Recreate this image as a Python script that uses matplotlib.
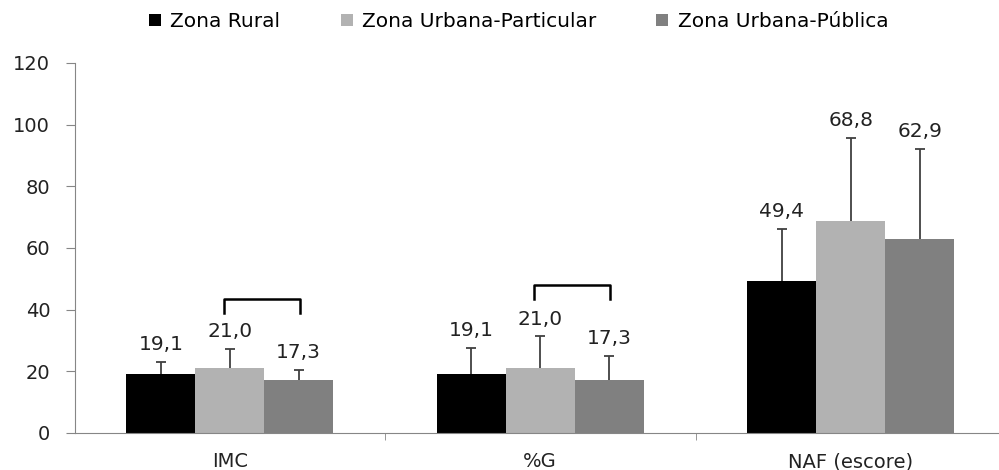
import numpy as np
import matplotlib
matplotlib.use("Agg")
import matplotlib.pyplot as plt

plt.rcParams["font.family"] = ["DejaVu Sans"]

categorias = ["IMC", "%G", "NAF (escore)"]
grupos = ["Zona Rural", "Zona Urbana-Particular", "Zona Urbana-Pública"]
cores = ["#000000", "#b2b2b2", "#808080"]

rural = [19.1, 19.1, 49.4]
urb_particular = [21.0, 21.0, 68.8]
urb_publica = [17.3, 17.3, 62.9]
medias = [rural, urb_particular, urb_publica]

# desvio padrão (só a parte superior é mostrada)
dp_rural = [4.0, 8.6, 16.8]
dp_particular = [6.3, 10.3, 26.9]
dp_publica = [3.1, 7.7, 29.2]
desvios = [dp_rural, dp_particular, dp_publica]

# colchetes de diferença significativa: (categoria, altura)
colchetes = [(0, 43.5), (1, 48.1)]


def main():
    fig = plt.figure(figsize=(9.99, 4.70), dpi=100)
    ax = fig.add_axes([74.5 / 999, 37 / 470, (1006 - 74.5) / 999, 370 / 470])

    x = np.arange(len(categorias))
    w = 0.222
    cinza = "#868686"
    for i in range(3):
        pos = x + (i - 1) * w
        ax.bar(pos, medias[i], width=w, color=cores[i], label=grupos[i], zorder=2)
        eb = ax.errorbar(pos, medias[i], yerr=[[0] * 3, desvios[i]], fmt="none",
                         ecolor="#404040", elinewidth=1.3, capsize=3.6,
                         capthick=1.3, zorder=3)
        # esconde o traço inferior (na altura da média)
        eb[1][0].set_visible(False)
        for xp, m, d in zip(pos, medias[i], desvios[i]):
            ax.text(xp, m + d + 3.8, "{:.1f}".format(m).replace(".", ","),
                    ha="center", va="baseline", fontsize=14.5, color="#222222")

    for c, h in colchetes:
        xs = [c - 0.02, c - 0.02, c + 0.225, c + 0.225]
        ys = [h - 4.5, h, h, h - 4.5]
        ax.plot(xs, ys, color="black", lw=1.8, zorder=4)

    ax.set_xlim(-0.5, 2.5)
    ax.set_ylim(0, 120)
    ax.set_yticks(range(0, 121, 20))
    ax.set_xticks(x)
    ax.set_xticklabels(categorias, fontsize=14, color="#222222")
    ax.set_xticks([0.5, 1.5], minor=True)
    ax.tick_params(axis="x", which="major", length=0, pad=14)
    ax.tick_params(axis="x", which="minor", length=5, color=cinza, direction="out")
    ax.tick_params(axis="y", length=6.5, color=cinza, labelsize=14, pad=11,
                   labelcolor="#222222")
    for s in ["top", "right"]:
        ax.spines[s].set_visible(False)
    ax.spines["left"].set_color(cinza)
    ax.spines["bottom"].set_color(cinza)

    fig.legend(loc="upper left", bbox_to_anchor=(149 / 999, 1 - 12 / 470), ncol=3,
               frameon=False, fontsize=14.5, handlelength=0.6, handleheight=0.6,
               handletextpad=0.45, columnspacing=3.0, borderpad=0,
               borderaxespad=0)
    fig.savefig("out.png", dpi=100)


if __name__ == "__main__":
    main()
